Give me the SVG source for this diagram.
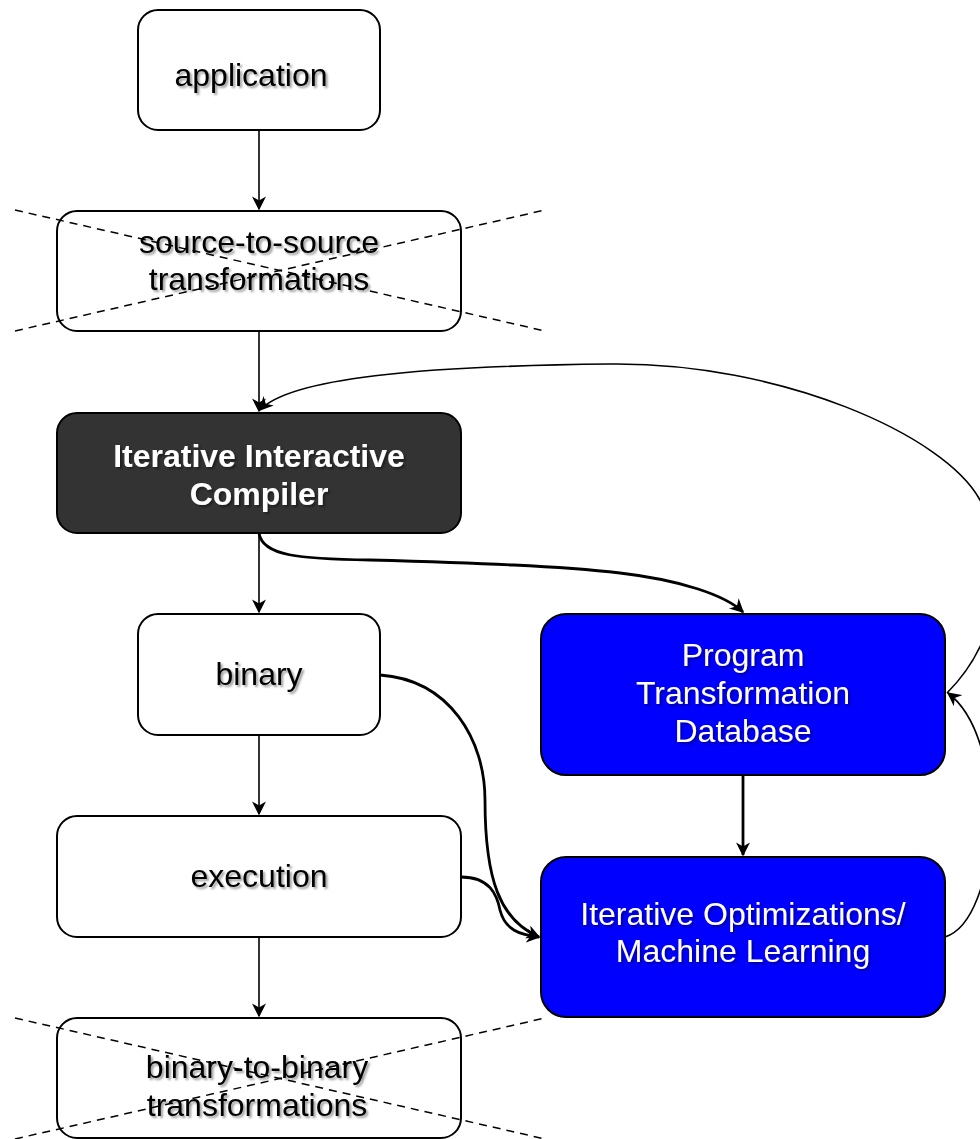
<svg xmlns="http://www.w3.org/2000/svg" width="980" height="1139" viewBox="0 0 980 1139">
<style>
.box{fill:#fff;stroke:#000;stroke-width:2}
.dark{fill:#333;stroke:#000;stroke-width:2}
.blue{fill:#0000ff;stroke:#000;stroke-width:2}
.t{font-family:"Liberation Sans",Arial,sans-serif;font-size:32px;text-anchor:middle;fill:#000;filter:url(#sh)}
.w{fill:#fff}
.b{font-weight:bold}
.x{stroke:#000;stroke-width:1.5;stroke-dasharray:8 6;fill:none}
.c{fill:none;stroke:#000;stroke-width:1.6}
.ck{fill:none;stroke:#000;stroke-width:2.8}
</style>
<defs>
<filter id="sh" x="-10%" y="-30%" width="120%" height="160%">
<feDropShadow dx="2" dy="2" stdDeviation="0.8" flood-color="#000" flood-opacity="0.4"/>
</filter>
<marker id="ak" viewBox="0 0 10 10" refX="9" refY="5" markerWidth="5" markerHeight="5" orient="auto">
<path d="M0,0 L10,5 L0,10 L3,5 z" fill="#000"/>
</marker>
<marker id="a2" viewBox="0 0 10 10" refX="9" refY="5" markerWidth="14" markerHeight="14" markerUnits="userSpaceOnUse" orient="auto">
<path d="M0,0 L10,5 L0,10 L3,5 z" fill="#000"/>
</marker>
</defs>

<g id="connectors">
<path class="c" d="M259,130 L259,209" marker-end="url(#a2)"/>
<path class="c" d="M259,331 L259,411" marker-end="url(#a2)"/>
<path class="c" d="M259,533 L259,612" marker-end="url(#a2)"/>
<path class="c" d="M259,735 L259,814" marker-end="url(#a2)"/>
<path class="c" d="M259,937 L259,1016" marker-end="url(#a2)"/>
<path class="ck" d="M743,775 L743,855" marker-end="url(#ak)"/>
<path class="ck" d="M259,533 C 262,556 300,559 370,560 C 480,563 560,566 620,573 C 680,580 725,595 743,612" marker-end="url(#ak)"/>
<path class="ck" d="M380,675 C 450,680 485,740 485,800 C 485,880 500,920 539,937" marker-end="url(#ak)"/>
<path class="ck" d="M461,877 C 490,877 497,895 500,910 C 505,930 520,935 539,937" marker-end="url(#ak)"/>
<path class="c" d="M945,937 C 1000,920 1010,740 948,693" marker-end="url(#a2)"/>
<path class="c" d="M947,693 C 1000,640 1010,560 980,500 C 945,435 780,362 610,364 C 420,366 290,378 260,410" marker-end="url(#a2)"/>
</g>

<g id="application">
<rect class="box" x="138" y="10" width="242" height="120" rx="20"/>
<text class="t" x="251" y="86">application</text>
</g>

<g id="source-to-source">
<rect class="box" x="57" y="211" width="404" height="120" rx="20"/>
<text class="t" x="259" y="253">source-to-source</text>
<text class="t" x="259" y="290">transformations</text>
<path class="x" d="M15,210 L545,331 M15,331 L545,210"/>
</g>

<g id="compiler">
<rect class="dark" x="57" y="413" width="404" height="120" rx="20"/>
<text class="t w b" x="259" y="467">Iterative Interactive</text>
<text class="t w b" x="259" y="505">Compiler</text>
</g>

<g id="binary">
<rect class="box" x="138" y="614" width="242" height="121" rx="20"/>
<text class="t" x="259" y="685">binary</text>
</g>

<g id="execution">
<rect class="box" x="57" y="816" width="404" height="121" rx="20"/>
<text class="t" x="259" y="887">execution</text>
</g>

<g id="binary-to-binary">
<rect class="box" x="57" y="1018" width="404" height="120" rx="20"/>
<text class="t" x="257" y="1078">binary-to-binary</text>
<text class="t" x="257" y="1116">transformations</text>
<path class="x" d="M15,1018 L545,1139 M15,1139 L545,1018"/>
</g>

<g id="database">
<rect class="blue" x="541" y="614" width="404" height="161" rx="25"/>
<text class="t w" x="743" y="666">Program</text>
<text class="t w" x="743" y="704">Transformation</text>
<text class="t w" x="743" y="742">Database</text>
</g>

<g id="optimizations">
<rect class="blue" x="541" y="857" width="404" height="160" rx="25"/>
<text class="t w" x="743" y="925">Iterative Optimizations/</text>
<text class="t w" x="743" y="962">Machine Learning</text>
</g>
</svg>
